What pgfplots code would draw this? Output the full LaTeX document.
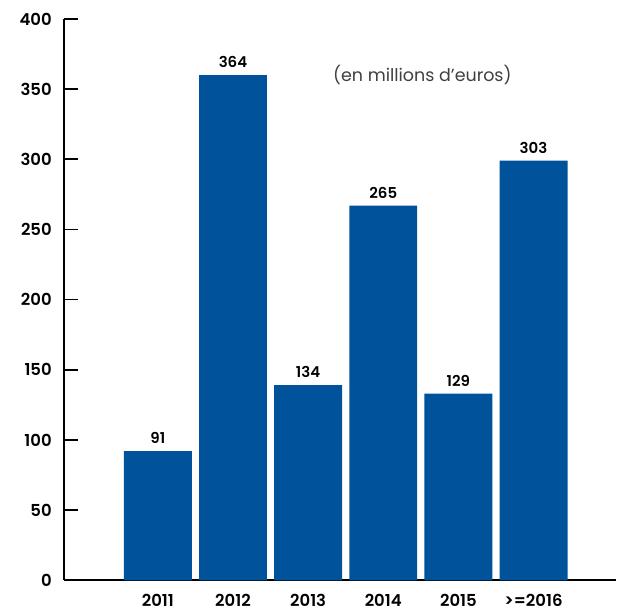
\documentclass[border=0pt]{standalone}
\usepackage{fontspec}
\setmainfont{Poppins}[BoldFont={Poppins SemiBold}]
\usepackage{pgfplots}
\pgfplotsset{compat=1.18}
\definecolor{barblue}{RGB}{0,82,155}
\begin{document}
\begin{tikzpicture}
\begin{axis}[
  name=ax,
  scale only axis,
  width=553pt, height=562pt,
  xmin=-1.25, xmax=6.1, ymin=0, ymax=400,
  axis x line=bottom, axis y line=left,
  axis line style={line width=1.6pt,-},
  xtick=data,
  xticklabels={2011,2012,2013,2014,2015,>=2016},
  x tick label style={font=\fontsize{16.5}{18}\selectfont\bfseries, anchor=north, inner sep=0pt, yshift=0pt},
  major x tick style={draw=none},
  ytick={0,50,...,400},
  tick align=inside,
  major tick length=14pt,
  major y tick style={line width=1.6pt, black},
  y tick label style={font=\fontsize{16.5}{18}\selectfont\bfseries, anchor=east, inner sep=0pt, xshift=-12pt},
  /pgf/number format/assume math mode=true,
  ybar, bar width=68pt,
  nodes near coords,
  point meta=explicit symbolic,
  nodes near coords style={font=\fontsize{15}{17}\selectfont\bfseries, anchor=south, inner sep=0pt, yshift=7pt},
  clip=false,
]
\addplot[fill=barblue, draw=none] coordinates {
  (0,92) [91]
  (1,360) [364]
  (2,139) [134]
  (3,267) [265]
  (4,133) [129]
  (5,299) [303]
};
\node[font=\fontsize{17.5}{19}\selectfont\color{black!75}] at (axis cs:3.52,360) {(en millions d’euros)};
\end{axis}
\path (ax.south west) +(-64pt,-30pt);
\path (ax.north east) +(0pt,19pt);
\end{tikzpicture}
\end{document}
